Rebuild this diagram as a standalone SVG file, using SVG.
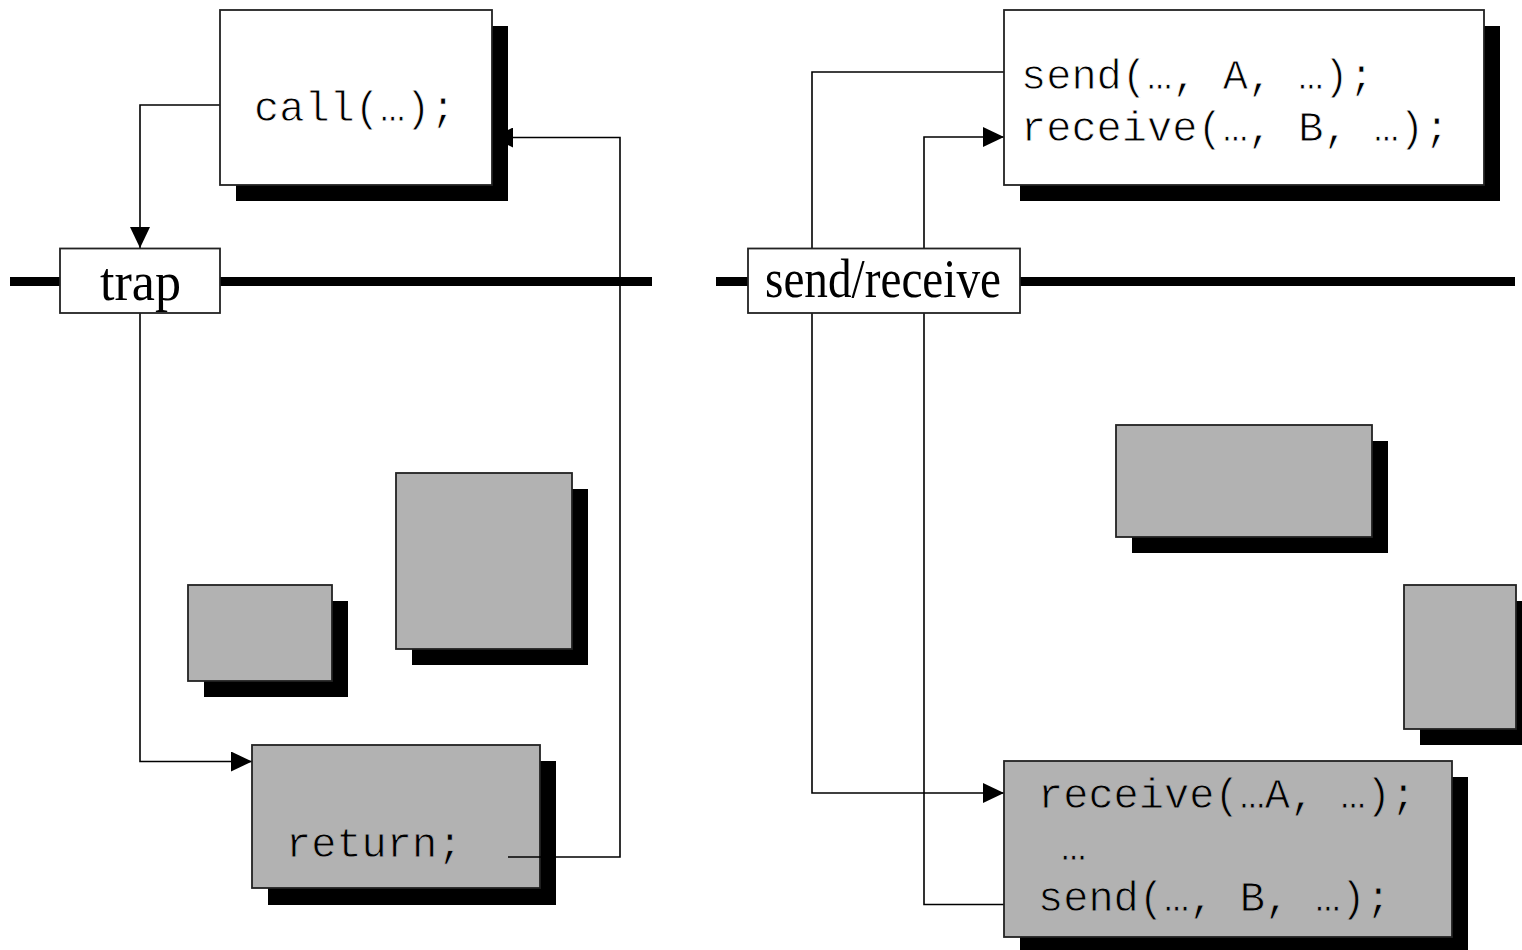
<svg xmlns="http://www.w3.org/2000/svg" width="1522" height="950" viewBox="0 0 1522 950">
  <style>
    .rail { stroke: #000; stroke-width: 9; fill: none; }
    .wire { stroke: #000; stroke-width: 1.6; fill: none; }
    .shadow { fill: #000; stroke: none; }
    .white { fill: #fff; stroke: #222; stroke-width: 1.8; }
    .grey { fill: #b2b2b2; stroke: #222; stroke-width: 1.8; }
    .label { fill: #fff; stroke: #222; stroke-width: 1.8; }
    /* monospace code text, thinned slightly with a background-coloured stroke */
    .code { font-family: "Liberation Mono", "Courier New", monospace; font-size: 42px; fill: #000; stroke-width: 0.8; paint-order: fill stroke; }
    .on-white { stroke: #fff; }
    .on-grey { stroke: #b2b2b2; }
    .serif { font-family: "Liberation Serif", "Times New Roman", serif; font-size: 54px; fill: #000; }
  </style>
  <defs>
    <marker id="arrow" markerUnits="userSpaceOnUse" markerWidth="21" markerHeight="20" refX="21" refY="10" orient="auto">
      <path d="M0,0 L21,10 L0,20 Z" fill="#000"/>
    </marker>
  </defs>

  <rect width="1522" height="950" fill="#fff"/>

  <!-- horizontal boundaries -->
  <g id="rails">
    <line class="rail" x1="10" y1="281.5" x2="652" y2="281.5"/>
    <line class="rail" x1="716" y1="281.5" x2="1515" y2="281.5"/>
  </g>

  <!-- connectors -->
  <g id="connectors">
    <polyline class="wire" points="220,105 140,105 140,248" marker-end="url(#arrow)"/>
    <polyline class="wire" points="140,313 140,761.5 252,761.5" marker-end="url(#arrow)"/>
    <polyline class="wire" points="508,857 620,857 620,137.5 492,137.5" marker-end="url(#arrow)"/>
    <polyline class="wire" points="1004,72 812,72 812,793 1004,793" marker-end="url(#arrow)"/>
    <polyline class="wire" points="1004,904.5 924,904.5 924,137 1004,137" marker-end="url(#arrow)"/>
  </g>

  <!-- left panel -->
  <g id="trap">
    <rect class="label" x="60" y="248.5" width="160" height="64.5"/>
    <text class="serif" x="100" y="300" textLength="81" lengthAdjust="spacingAndGlyphs">trap</text>
  </g>

  <g id="caller">
    <rect class="shadow" x="236" y="26" width="272" height="175"/>
    <rect class="white" x="220" y="10" width="272" height="175"/>
    <text class="code on-white" x="254" y="121">call(…);</text>
  </g>

  <g id="small-block">
    <rect class="shadow" x="204" y="601" width="144" height="96"/>
    <rect class="grey" x="188" y="585" width="144" height="96"/>
  </g>

  <g id="large-block">
    <rect class="shadow" x="412" y="489" width="176" height="176"/>
    <rect class="grey" x="396" y="473" width="176" height="176"/>
  </g>

  <g id="handler">
    <rect class="shadow" x="268" y="761" width="288" height="144"/>
    <rect class="grey" x="252" y="745" width="288" height="143"/>
    <text class="code on-grey" x="286" y="857">return;</text>
  </g>

  <!-- return path drawn over handler body -->
  <line class="wire" x1="508" y1="857" x2="556" y2="857"/>

  <!-- right panel -->
  <g id="send-receive">
    <rect class="label" x="748" y="248.5" width="272" height="64.5"/>
    <text class="serif" x="765" y="297" textLength="236" lengthAdjust="spacingAndGlyphs">send/receive</text>
  </g>

  <g id="client">
    <rect class="shadow" x="1020" y="26" width="480" height="175"/>
    <rect class="white" x="1004" y="10" width="480" height="175"/>
    <text class="code on-white" x="1021" y="89">send(…, A, …);</text>
    <text class="code on-white" x="1021" y="141">receive(…, B, …);</text>
  </g>

  <g id="wide-block">
    <rect class="shadow" x="1132" y="441" width="256" height="112"/>
    <rect class="grey" x="1116" y="425" width="256" height="112"/>
  </g>

  <g id="edge-block">
    <rect class="shadow" x="1420" y="601" width="112" height="144"/>
    <rect class="grey" x="1404" y="585" width="112" height="144"/>
  </g>

  <g id="server">
    <rect class="shadow" x="1020" y="777" width="448" height="180"/>
    <rect class="grey" x="1004" y="761" width="448" height="176"/>
    <text class="code on-grey" x="1038" y="808">receive(…A, …);</text>
    <text class="code on-grey" x="1061" y="860">…</text>
    <text class="code on-grey" x="1038" y="911">send(…, B, …);</text>
  </g>
</svg>
